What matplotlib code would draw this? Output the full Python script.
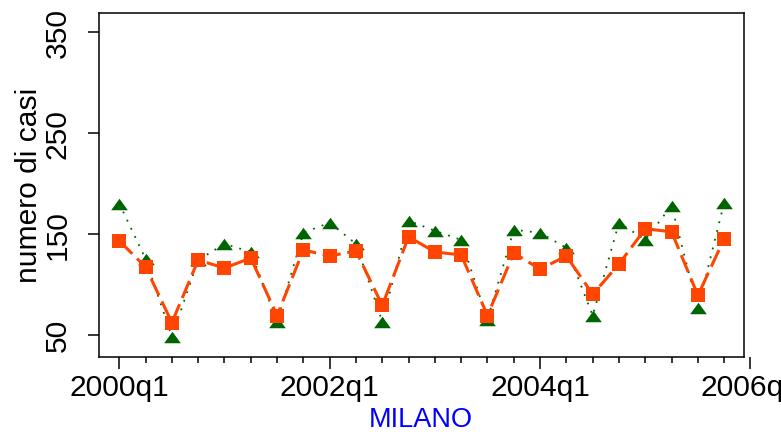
import matplotlib.pyplot as plt
from matplotlib.path import Path

plt.rcParams['font.family'] = ['Liberation Sans', 'DejaVu Sans']

# quarterly counts 2000q1 .. 2005q4
years = [2000, 2001, 2002, 2003, 2004, 2005]
green_vals = [180, 125, 48, 124, 140, 132, 63, 151, 161, 140, 63, 163,
              153, 144, 65, 154, 151, 136, 69, 161, 144, 178, 76, 181]
orange_vals = [143, 117, 62, 124, 116, 126, 69, 134, 128, 133, 79, 147,
               132, 129, 69, 131, 115, 128, 90, 120, 155, 152, 89, 145]
tick_labels = ["2000q1", "2002q1", "2004q1", "2006q1"]
y_ticks = [50, 150, 250, 350]

quarters = list(range(len(years) * 4))
major_pos = [0, 8, 16, 24]

green = "#006400"
orange = "#FF4500"

# wide Stata-like triangle
tri = Path([(-1, -0.69), (1, -0.69), (0, 0.69), (-1, -0.69)],
           [Path.MOVETO, Path.LINETO, Path.LINETO, Path.CLOSEPOLY])

fig = plt.figure(figsize=(7.81, 4.35), dpi=100)
ax = fig.add_axes([99.3 / 781, 1 - 358 / 435, 652.5 / 781, 344.5 / 435])

ax.plot(quarters, green_vals, color=green, lw=1.3, linestyle=(0, (1, 4)),
        marker=tri, markersize=12, markeredgewidth=0, zorder=3)
ax.plot(quarters, orange_vals, color=orange, lw=2.2, linestyle=(0, (6, 2.2)),
        marker="s", markersize=9.4, markeredgewidth=0, zorder=4)

ax.set_xlim(-0.76, 24.05)
ax.set_ylim(27.9, 369.3)

box_right = 23.75
ax.spines["right"].set_position(("data", box_right))
ax.spines["top"].set_bounds(-0.76, box_right)
ax.spines["bottom"].set_bounds(-0.76, box_right)
for s in ax.spines.values():
    s.set_linewidth(1.1)

ax.set_xticks(major_pos)
ax.set_xticklabels(tick_labels)
ax.set_xticks(quarters, minor=True)
ax.set_yticks(y_ticks)
ax.set_yticklabels([str(v) for v in y_ticks], rotation=90, va="center")

ax.tick_params(axis="x", which="major", length=8.6, width=1.1, pad=3, labelsize=21.6)
ax.tick_params(axis="x", which="minor", length=4.3, width=1.1)
ax.tick_params(axis="y", which="major", length=8, width=1.1, pad=12, labelsize=21.6)

ax.set_ylabel("numero di casi", fontsize=21.6, va="center")
ax.yaxis.set_label_coords((29 - 99.3) / 652.5, 0.5)
fig.text(421 / 781, 1 - 420 / 435, "MILANO", color="blue", fontsize=19.5,
         ha="center", va="center")

fig.savefig("out.png", dpi=100)
